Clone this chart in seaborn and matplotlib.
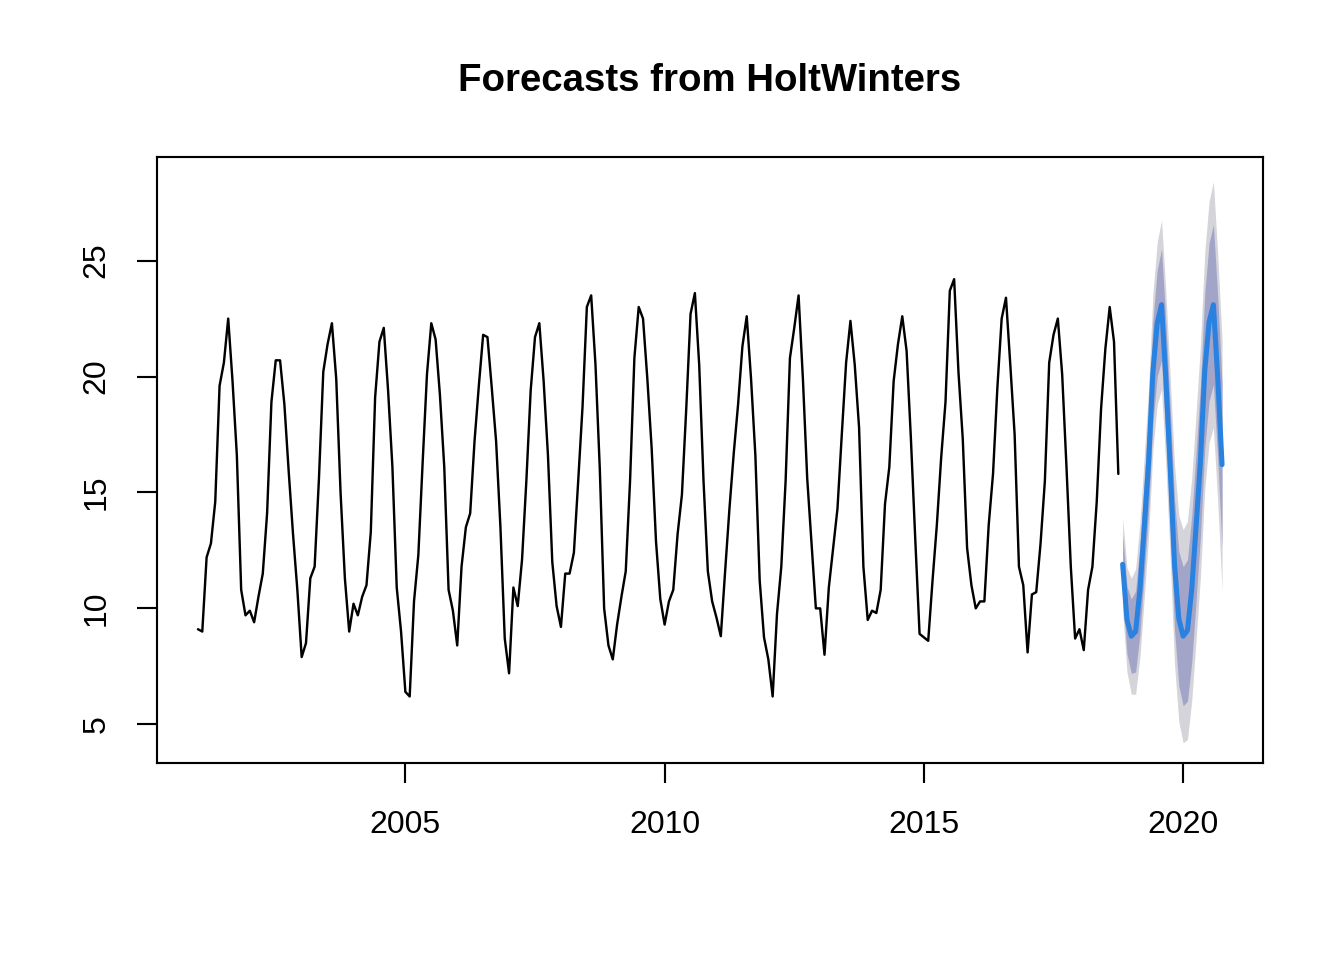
import numpy as np
import matplotlib
matplotlib.use("Agg")
import matplotlib.pyplot as plt
import seaborn as sns

# ---- data (monthly, Jan 2001 .. Oct 2018) ----
start_year = 2001
observed = [
    9.1, 9.0, 12.2, 12.8, 14.6, 19.6, 20.6, 22.5, 19.8, 16.6, 10.8, 9.7,   # 2001
    9.9, 9.4, 10.5, 11.5, 14.1, 18.9, 20.7, 20.7, 18.8, 15.9, 13.2, 10.8,  # 2002
    7.9, 8.5, 11.3, 11.8, 15.6, 20.2, 21.4, 22.3, 19.9, 15.0, 11.3, 9.0,   # 2003
    10.2, 9.7, 10.5, 11.0, 13.3, 19.1, 21.5, 22.1, 19.4, 16.1, 10.9, 9.0,  # 2004
    6.4, 6.2, 10.3, 12.3, 16.3, 20.1, 22.3, 21.6, 19.2, 16.1, 10.8, 9.9,   # 2005
    8.4, 11.8, 13.5, 14.1, 17.2, 19.6, 21.8, 21.7, 19.5, 17.2, 13.5, 8.7,  # 2006
    7.2, 10.9, 10.1, 12.1, 15.5, 19.4, 21.7, 22.3, 19.8, 16.6, 12.0, 10.1, # 2007
    9.2, 11.5, 11.5, 12.4, 15.5, 18.7, 23.0, 23.5, 20.5, 16.0, 10.0, 8.4,  # 2008
    7.8, 9.3, 10.5, 11.6, 15.5, 20.8, 23.0, 22.5, 19.9, 16.9, 12.9, 10.4,  # 2009
    9.3, 10.3, 10.8, 13.2, 14.9, 18.6, 22.7, 23.6, 20.5, 15.5, 11.6, 10.3, # 2010
    9.6, 8.8, 11.6, 14.3, 16.7, 18.8, 21.3, 22.6, 19.9, 16.6, 11.2, 8.75,  # 2011
    7.8, 6.2, 9.75, 11.8, 15.5, 20.8, 22.1, 23.5, 19.9, 15.6, 12.8, 10.0,  # 2012
    10.0, 8.0, 10.9, 12.6, 14.3, 17.5, 20.6, 22.4, 20.5, 17.8, 11.8, 9.5,  # 2013
    9.9, 9.8, 10.8, 14.5, 16.1, 19.8, 21.4, 22.6, 21.1, 17.3, 13.0, 8.9,   # 2014
    8.75, 8.6, 11.2, 13.6, 16.5, 18.9, 23.7, 24.2, 20.2, 17.3, 12.6, 11.0, # 2015
    10.0, 10.3, 10.3, 13.6, 15.8, 19.5, 22.5, 23.4, 20.5, 17.5, 11.8, 11.0,# 2016
    8.1, 10.6, 10.7, 12.8, 15.5, 20.6, 21.8, 22.5, 20.1, 16.1, 11.8, 8.7,  # 2017
    9.1, 8.2, 10.8, 11.8, 14.6, 18.6, 21.2, 23.0, 21.5, 15.8,              # 2018
]

# ---- forecast (Nov 2018 .. Oct 2020) ----
fc_mean = [11.9, 9.5, 8.8, 9.0, 10.8, 13.5, 16.3, 20.2, 22.3, 23.1, 19.9, 16.1,
           11.9, 9.55, 8.8, 9.05, 10.85, 13.55, 16.35, 20.25, 22.35, 23.1, 19.95, 16.2]
hw95 = [2.0, 2.25, 2.5, 2.7, 2.9, 3.05, 3.2, 3.35, 3.5, 3.65, 3.75, 3.9,
        4.3, 4.45, 4.6, 4.7, 4.8, 4.9, 5.0, 5.1, 5.2, 5.3, 5.35, 5.4]
hw80 = [1.3, 1.45, 1.6, 1.75, 1.9, 2.0, 2.1, 2.2, 2.3, 2.4, 2.45, 2.55,
        2.8, 2.9, 3.0, 3.05, 3.15, 3.2, 3.25, 3.35, 3.4, 3.45, 3.5, 3.55]

title = "Forecasts from HoltWinters"
xticks = [2005, 2010, 2015, 2020]
yticks = [5, 10, 15, 20, 25]

# ---- plotting ----
sns.set_theme(style="white")
plt.rcParams["font.family"] = ["Liberation Sans", "DejaVu Sans"]

obs = np.array(observed)
t_obs = start_year + np.arange(len(obs)) / 12.0
fm = np.array(fc_mean)
t_fc = start_year + (len(obs) + np.arange(len(fm))) / 12.0
h95 = np.array(hw95)
h80 = np.array(hw80)

fig = plt.figure(figsize=(7, 5), dpi=192)
W, H = 1344, 960
ax = fig.add_axes([157 / W, 1 - 763 / H, (1263 - 157) / W, (763 - 157) / H])

ax.fill_between(t_fc, fm - h95, fm + h95, color="#D4D4DA", linewidth=0, zorder=1)
ax.fill_between(t_fc, fm - h80, fm + h80, color="#A3A5C8", linewidth=0, zorder=2)
sns.lineplot(x=t_fc, y=fm, ax=ax, color="#2A82E0", linewidth=1.9, zorder=3)
sns.lineplot(x=t_obs, y=obs, ax=ax, color="black", linewidth=0.9, zorder=4)

ax.set_xlim(2000.21, 2021.54)
ax.set_ylim(3.33, 29.47)
ax.set_xticks(xticks)
ax.set_xticklabels([str(v) for v in xticks])
ax.set_yticks(yticks)
ax.set_yticklabels([str(v) for v in yticks], rotation=90, va="center")
ax.set_xlabel("")
ax.set_ylabel("")

for s in ax.spines.values():
    s.set_visible(True)
    s.set_color("black")
    s.set_linewidth(0.8)
ax.tick_params(axis="both", which="major", direction="out", length=7.5, width=0.8,
               color="black", labelsize=12, labelcolor="black",
               bottom=True, left=True)
ax.tick_params(axis="x", pad=10)
ax.tick_params(axis="y", pad=9.5)
ax.grid(False)

fig.text((157 + 1263) / 2 / W, 1 - 81 / H, title, ha="center", va="center",
         fontsize=14.4, fontweight="bold", color="black")

fig.savefig("out.png", dpi=192, facecolor="white")
